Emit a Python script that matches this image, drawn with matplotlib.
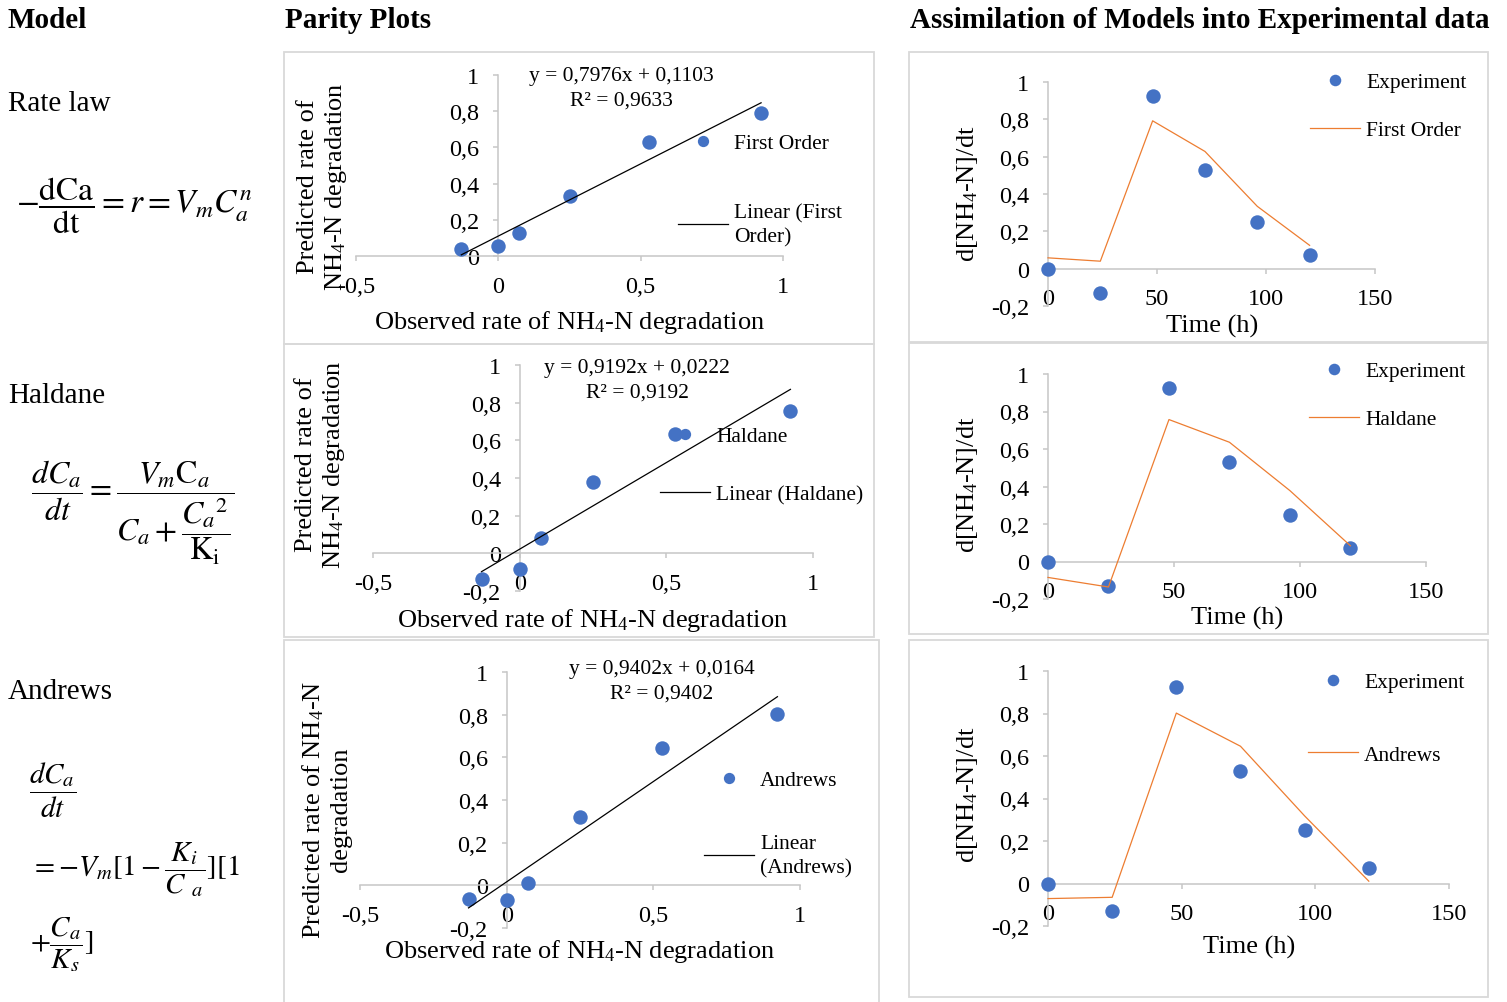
import matplotlib
matplotlib.use("Agg")
import matplotlib.pyplot as plt
from matplotlib.patches import Rectangle
from matplotlib.ticker import FuncFormatter

# Sampling times (h) and observed NH4-N degradation rate
time_h = [0, 24, 48, 72, 96, 120]
experiment = [0.0, -0.13, 0.923, 0.53, 0.25, 0.072]

# Rates predicted by each kinetic model at the same times
first_order = [0.058, 0.040, 0.792, 0.628, 0.334, 0.125]
haldane = [-0.085, -0.136, 0.757, 0.636, 0.378, 0.084]
andrews = [-0.071, -0.065, 0.802, 0.646, 0.318, 0.011]

model_names = ["First Order", "Haldane", "Andrews"]
model_rates = [first_order, haldane, andrews]
row_labels = ["Rate law", "Haldane", "Andrews"]

# Linear trendlines of predicted vs observed
fit_slopes = [0.7976, 0.9192, 0.9402]
fit_intercepts = [0.1103, 0.0222, 0.0164]
fit_r2 = [0.9633, 0.9192, 0.9402]
trend_labels = ["Linear (First\nOrder)", "Linear (Haldane)", "Linear\n(Andrews)"]

parity_xticks = [-0.5, 0, 0.5, 1]
parity_yticks = [[0, 0.2, 0.4, 0.6, 0.8, 1],
                 [-0.2, 0, 0.2, 0.4, 0.6, 0.8, 1],
                 [-0.2, 0, 0.2, 0.4, 0.6, 0.8, 1]]
time_xticks = [0, 50, 100, 150]
time_yticks = [-0.2, 0, 0.2, 0.4, 0.6, 0.8, 1]

BLUE = "#4472C4"
ORANGE = "#ED7D31"
AXIS_GREY = "#c6c6c6"
BOX_GREY = "#d9d9d9"

W, H = 1507, 1003

plt.rcParams["font.family"] = ["Liberation Serif", "DejaVu Serif"]
plt.rcParams["mathtext.fontset"] = "custom"
plt.rcParams["mathtext.rm"] = "Liberation Serif"
plt.rcParams["mathtext.it"] = "Liberation Serif:italic"
plt.rcParams["mathtext.bf"] = "Liberation Serif:bold"

fig = plt.figure(figsize=(W / 100, H / 100), dpi=100)


def fx(x):
    return x / W


def fy(y):
    return 1 - y / H


def add_axes_px(left, top, right, bottom):
    return fig.add_axes([fx(left), fy(bottom), (right - left) / W, (bottom - top) / H])


def add_box(left, top, right, bottom):
    fig.patches.append(Rectangle((fx(left), fy(bottom)), (right - left) / W,
                                 (bottom - top) / H, transform=fig.transFigure,
                                 fill=False, edgecolor=BOX_GREY, linewidth=1.3))


def comma(v, _pos=None):
    return f"{v:g}".replace(".", ",")


def style_axes(ax, xlim, ylim, xticks, yticks):
    ax.set_xlim(*xlim)
    ax.set_ylim(*ylim)
    ax.patch.set_alpha(0)
    for side in ("top", "right"):
        ax.spines[side].set_visible(False)
    ax.spines["left"].set_position(("data", 0))
    ax.spines["bottom"].set_position(("data", 0))
    for side in ("left", "bottom"):
        ax.spines[side].set_color(AXIS_GREY)
        ax.spines[side].set_linewidth(1.1)
    ax.set_xticks(xticks)
    ax.set_yticks(yticks)
    ax.xaxis.set_major_formatter(FuncFormatter(comma))
    ax.yaxis.set_major_formatter(FuncFormatter(comma))
    ax.tick_params(direction="out", length=3.6, width=1.1, color=AXIS_GREY,
                   labelsize=17.5)
    ax.tick_params(axis="y", pad=10)
    ax.tick_params(axis="x", pad=10.5)


def add_legend(ax, handles, labels, anchor, gap, markerscale):
    lx, ly = anchor
    leg = ax.legend(handles=handles, labels=labels, loc="upper left",
                    bbox_to_anchor=(fx(lx), fy(ly)), bbox_transform=fig.transFigure,
                    frameon=False, borderpad=0, borderaxespad=0, handlelength=2.3,
                    handletextpad=0.3, labelspacing=gap, markerscale=markerscale,
                    fontsize=15.5)
    for t in leg.get_texts():
        t.set_linespacing(1.35)
    return leg


# Panel frames
parity_boxes = [(284, 53, 874, 345), (284, 345, 874, 638), (284, 641, 879, 1010)]
time_boxes = [(909, 53, 1488, 343), (909, 344, 1488, 635), (909, 641, 1488, 998)]
for box in parity_boxes + time_boxes:
    add_box(*box)

# Axes placement in pixels (left, top, right, bottom)
parity_axes_px = [(356, 76, 783, 257), (373, 366, 813, 592), (360, 673, 800, 929)]
time_axes_px = [(1048, 83, 1375, 307), (1048, 375, 1426, 600), (1048, 672, 1449, 927)]
parity_ylims = [(0, 1), (-0.2, 1), (-0.2, 1)]

# Legend anchors (upper-left, pixels) and row spacing
parity_leg = [(678, 134, 2.32), (660, 427, 1.8), (704, 771, 2.05)]
time_leg = [(1310, 73, 1.3), (1309, 362, 1.3), (1308, 673, 2.45)]

# Equation text centres and axis-label placements
fit_text_xy = [(621, 77), (637, 369), (662, 670)]
parity_ylabel_xy = [(323, 187), (321, 465), (326, 810)]
parity_ylabels = ["Predicted rate of\nNH$_4$-N degradation",
                  "Predicted rate of\nNH$_4$-N degradation",
                  "Predicted rate of NH$_4$-N\ndegradation"]
parity_xlabel_xy = [(569, 323), (592, 621), (579, 952)]
time_ylabel_xy = [(967, 194), (967, 485), (968, 795)]
time_xlabel_xy = [(1212, 326), (1237, 618), (1249, 947)]

for i, (name, rates) in enumerate(zip(model_names, model_rates)):
    # Parity plot: predicted vs observed
    ax = add_axes_px(*parity_axes_px[i])
    style_axes(ax, (-0.5, 1), parity_ylims[i], parity_xticks, parity_yticks[i])
    dots, = ax.plot(experiment, rates, "o", color=BLUE, markersize=10.4,
                    markeredgewidth=0, linestyle="none", clip_on=False, zorder=3)
    x0, x1 = min(experiment), max(experiment)
    fit, = ax.plot([x0, x1],
                   [fit_slopes[i] * x0 + fit_intercepts[i], fit_slopes[i] * x1 + fit_intercepts[i]],
                   color="black", linewidth=0.9, zorder=4)
    lx, ly, gap = parity_leg[i]
    add_legend(ax, [dots, fit], [name, trend_labels[i]], (lx, ly), gap, 0.78)
    tx, ty = fit_text_xy[i]
    fig.text(fx(tx), fy(ty), f"y = {comma(fit_slopes[i])}x + {comma(fit_intercepts[i])}",
             ha="center", va="center", fontsize=15.5)
    fig.text(fx(tx), fy(ty + 24), f"R² = {comma(fit_r2[i])}",
             ha="center", va="center", fontsize=15.5)
    px, py = parity_ylabel_xy[i]
    fig.text(fx(px), fy(py), parity_ylabels[i], rotation=90, ha="center", va="center",
             multialignment="center", fontsize=19, linespacing=1.22)
    px, py = parity_xlabel_xy[i]
    fig.text(fx(px), fy(py), "Observed rate of NH$_4$-N degradation",
             ha="center", va="center", fontsize=19)

    # Model output against the measured time course
    ax = add_axes_px(*time_axes_px[i])
    style_axes(ax, (0, 150), (-0.2, 1), time_xticks, time_yticks)
    exp_dots, = ax.plot(time_h, experiment, "o", color=BLUE, markersize=10.4,
                        markeredgewidth=0, linestyle="none", clip_on=False, zorder=3)
    model_line, = ax.plot(time_h, rates, color=ORANGE, linewidth=0.9,
                          clip_on=False, zorder=4)
    lx, ly, gap = time_leg[i]
    add_legend(ax, [exp_dots, model_line], ["Experiment", name], (lx, ly), gap, 0.8)
    px, py = time_ylabel_xy[i]
    fig.text(fx(px), fy(py), "d[NH$_4$-N]/dt", rotation=90, ha="center", va="center",
             fontsize=19)
    px, py = time_xlabel_xy[i]
    fig.text(fx(px), fy(py), "Time (h)", ha="center", va="center", fontsize=19)

# Column headings
for x, title in [(8, "Model"), (285, "Parity Plots"),
                 (910, "Assimilation of Models into Experimental data")]:
    fig.text(fx(x), fy(21), title, fontweight="bold", fontsize=21, va="center")

# Model names and rate expressions
for y, label in zip([104, 396, 692], row_labels):
    fig.text(fx(8), fy(y), label, fontsize=21, va="center")

eq_kw = dict(math_fontfamily="stix", va="center", ha="left")
fig.text(fx(16), fy(206), r"$-\dfrac{\mathrm{dCa}}{\mathrm{dt}} = r = V_m C_a^n$",
         fontsize=24, **eq_kw)
fig.text(fx(31), fy(513),
         r"$\dfrac{dC_a}{dt} = \dfrac{V_m\mathrm{C}_a}{C_a + \dfrac{{C_a}^{2}}{\mathrm{K_i}}}$",
         fontsize=23, **eq_kw)
fig.text(fx(29), fy(790), r"$\dfrac{dC_a}{dt}$", fontsize=21, **eq_kw)
fig.text(fx(30), fy(870), r"$= -V_m[1 - \dfrac{K_i}{C\ _a}][1$", fontsize=21, **eq_kw)
fig.text(fx(30), fy(945), r"$+\dfrac{C_a}{K_s}]$", fontsize=21, **eq_kw)

fig.savefig("out.png", dpi=100)
